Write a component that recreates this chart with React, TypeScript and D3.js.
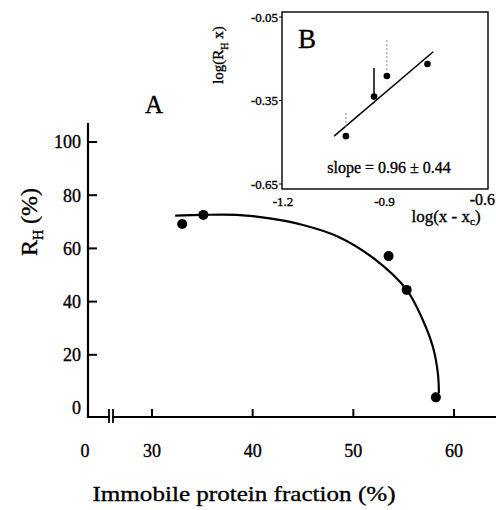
import React from "react";
import * as d3 from "d3";

const mainXTicks = [30, 40, 50, 60];
const mainYTicks = [0, 20, 40, 60, 80, 100];
const pointX = [33.0, 35.1, 53.5, 55.3, 58.2];
const pointY = [69.2, 72.6, 57.1, 44.4, 4.0];
const curveX = [32.3, 35.1, 38.4, 41.7, 45.0, 48.5, 52.0, 55.3, 56.9, 57.9, 58.4, 58.5];
const curveY = [72.3, 72.6, 72.6, 71.3, 68.8, 64.4, 56.3, 44.4, 33.1, 23.0, 13.0, 5.5];

const insetXTicks = [-1.2, -0.9, -0.6];
const insetYTicks = [-0.05, -0.35, -0.65];
const insetX = [-1.014, -0.931, -0.893, -0.773];
const insetY = [-0.478, -0.336, -0.262, -0.219];
const errTop = [-0.395, -0.233, -0.133, NaN];
const errBottom = [-0.45, -0.336, -0.245, NaN];
const errDotted = [true, false, true, false];
const fitX = [-1.049, -0.756];
const fitY = [-0.478, -0.175];

const FONT = "'Liberation Serif', 'DejaVu Serif', serif";

export default function App() {
  const x = d3.scaleLinear().domain([30, 60]).range([152, 454]);
  const y = d3.scaleLinear().domain([0, 100]).range([408, 142]);
  const axisX = 88;
  const axisY = 417;

  const xi = d3.scaleLinear().domain([-1.2, -0.6]).range([283, 486]);
  const yi = d3.scaleLinear().domain([-0.05, -0.65]).range([17, 184]);

  const curvePts = curveX.map((v, i) => [x(v), y(curveY[i])] as [number, number]);
  const curvePath = d3.line().curve(d3.curveCatmullRom.alpha(0.5))(curvePts) || "";

  const fitPath = d3.line()(fitX.map((v, i) => [xi(v), yi(fitY[i])] as [number, number])) || "";

  const txt = { stroke: "#000", strokeWidth: 0.35 };

  return (
    <svg width={496} height={510} style={{ position: "absolute", left: 0, top: 0, background: "#fff" }} fontFamily={FONT}>
      <rect x={0} y={0} width={496} height={510} fill="#fff" />
      {/* Main axes */}
      <line x1={axisX} y1={123} x2={axisX} y2={axisY + 1} stroke="#000" strokeWidth={2.2} />
      <line x1={axisX} y1={axisY} x2={496} y2={axisY} stroke="#000" strokeWidth={2.2} />
      {/* axis break */}
      <line x1={109} y1={409} x2={109} y2={423} stroke="#000" strokeWidth={1.8} />
      <line x1={113} y1={409} x2={113} y2={423} stroke="#000" strokeWidth={1.8} />
      <rect x={110} y={414} width={2} height={6} fill="#fff" />
      {mainYTicks.map((t) => (
        <g key={"yt" + t}>
          {t !== 0 && <line x1={axisX} y1={y(t)} x2={axisX + 9} y2={y(t)} stroke="#000" strokeWidth={2} />}
          <text x={81} y={y(t)} dy="0.35em" textAnchor="end" fontSize={18} {...txt}>{t}</text>
        </g>
      ))}
      {mainXTicks.map((t) => (
        <g key={"xt" + t}>
          <line x1={x(t)} y1={axisY} x2={x(t)} y2={axisY - 8} stroke="#000" strokeWidth={2} />
          <text x={x(t)} y={451} dy="0.35em" textAnchor="middle" fontSize={18} {...txt}>{t}</text>
        </g>
      ))}
      <text x={85} y={451} dy="0.35em" textAnchor="middle" fontSize={18} {...txt}>0</text>

      {/* curve and points */}
      <path d={curvePath} fill="none" stroke="#000" strokeWidth={2.2} />
      {pointX.map((v, i) => (
        <circle key={"p" + i} cx={x(v)} cy={y(pointY[i])} r={5} fill="#000" />
      ))}

      {/* labels */}
      <text x={154} y={113} textAnchor="middle" fontSize={25} {...txt}>A</text>
      <text x={244} y={501} textAnchor="middle" fontSize={22} textLength={303} lengthAdjust="spacingAndGlyphs" {...txt}>Immobile protein fraction (%)</text>
      <text transform="translate(37,222) rotate(-90)" textAnchor="middle" fontSize={24} {...txt}>
        R<tspan fontSize={14} dy={6}>H</tspan><tspan dy={-6}> (%)</tspan>
      </text>

      {/* Inset B */}
      <rect x={282} y={12} width={206} height={177} fill="none" stroke="#000" strokeWidth={1.4} />
      {insetYTicks.map((t) => (
        <g key={"iy" + t}>
          <line x1={282} y1={yi(t)} x2={279} y2={yi(t)} stroke="#000" strokeWidth={1} />
          <text x={278} y={yi(t)} dy="0.35em" textAnchor="end" fontSize={13} {...txt}>{t.toFixed(2)}</text>
        </g>
      ))}
      {insetXTicks.map((t, i) => (
        <text key={"ix" + t} x={i === insetXTicks.length - 1 ? 495 : xi(t)} y={i === insetXTicks.length - 1 ? 199 : 201} dy="0.35em"
          textAnchor={i === insetXTicks.length - 1 ? "end" : "middle"} fontSize={i === insetXTicks.length - 1 ? 16 : 13} {...txt}>{t.toFixed(1)}</text>
      ))}
      <text x={307} y={48} textAnchor="middle" fontSize={27} {...txt}>B</text>
      <text x={446} y={222} textAnchor="middle" fontSize={17} {...txt}>
        log(x - x<tspan fontSize={11} dy={3}>c</tspan><tspan dy={-3}>)</tspan>
      </text>
      <text transform="translate(223,55) rotate(-90)" textAnchor="middle" fontSize={15} {...txt}>
        log(R<tspan fontSize={10} dy={5}>H</tspan><tspan dy={-5}> x)</tspan>
      </text>
      <path d={fitPath} fill="none" stroke="#000" strokeWidth={1.5} />
      {insetX.map((v, i) =>
        isNaN(errTop[i]) ? null : (
          <line key={"e" + i} x1={xi(v)} y1={yi(errTop[i])} x2={xi(v)} y2={yi(errBottom[i])}
            stroke={errDotted[i] ? "#888" : "#000"} strokeWidth={errDotted[i] ? 1 : 1.5}
            strokeDasharray={errDotted[i] ? "2,2" : undefined} />
        )
      )}
      {insetX.map((v, i) => (
        <circle key={"ip" + i} cx={xi(v)} cy={yi(insetY[i])} r={3.3} fill="#000" />
      ))}
      <text x={389} y={173} textAnchor="middle" fontSize={16} {...txt}>slope = 0.96 ± 0.44</text>
    </svg>
  );
}
